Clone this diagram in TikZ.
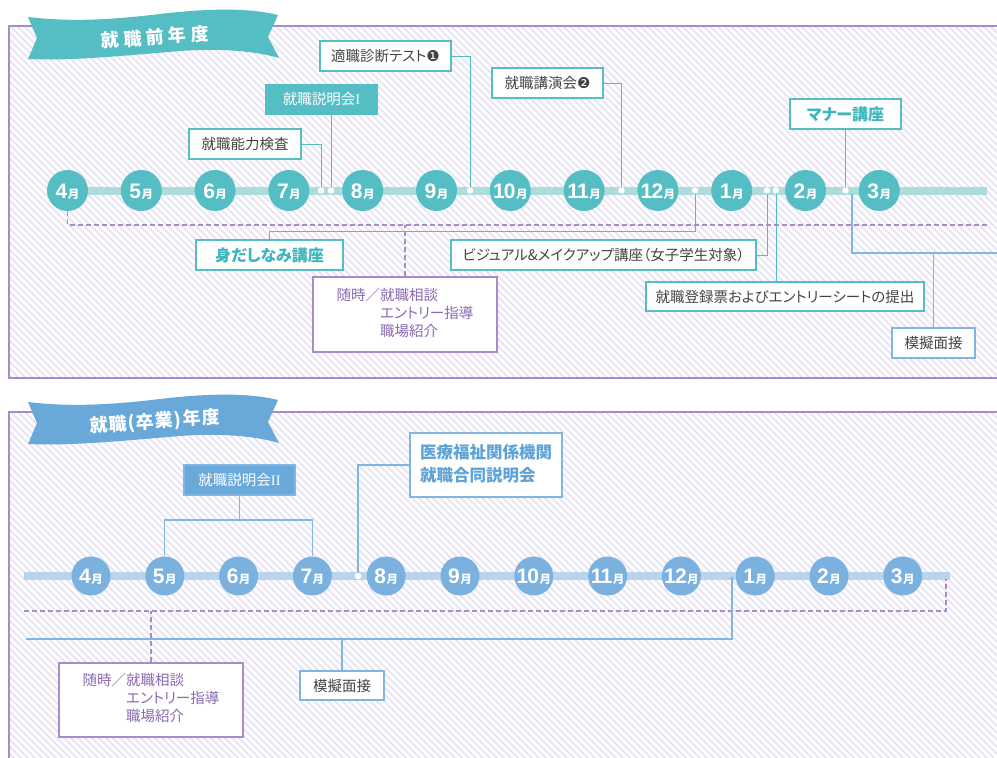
\documentclass[tikz,border=0pt]{standalone}
\usepackage{fontspec}
\setmainfont{Noto Sans CJK JP}[RawFeature=+palt]
\newfontfamily\dejavu{DejaVu Sans}
\newfontfamily\digitfont{Liberation Sans}
\newfontfamily\romfont{Liberation Serif}
\usetikzlibrary{calc}
\definecolor{tealc}{HTML}{55BEC4}
\definecolor{tealbar}{HTML}{ADDCDC}
\definecolor{tealtxt}{HTML}{3FB5BD}
\definecolor{bluec}{HTML}{7AB1DF}
\definecolor{bluebar}{HTML}{B9D5EE}
\definecolor{blueban}{HTML}{69A9DA}
\definecolor{blueln}{HTML}{7FB6E3}
\definecolor{bluetxt}{HTML}{5EA3D8}
\definecolor{purp}{HTML}{A88CCA}
\definecolor{purptxt}{HTML}{8A68B3}
\definecolor{grayt}{HTML}{444444}
\definecolor{stripe}{HTML}{E9E5F3}
\newcommand\monthlab[1]{{\digitfont\fontsize{21}{21}\selectfont\bfseries\addfontfeature{LetterSpace=-4}#1}\kern0.5pt{\fontsize{11.5}{11.5}\selectfont\bfseries 月}}
\newcommand\ribbonpath{(28,17) .. controls (70,22) and (110,20) .. (160,14) .. controls (210,8) and (250,8) .. (278,15) -- (268,37) -- (279,58) .. controls (255,51) and (220,48) .. (180,51) .. controls (120,56) and (70,61) .. (28,59) -- (37,38) -- cycle}
\begin{document}
\begin{tikzpicture}[x=1pt,y=-1pt,
  box/.style={draw, line width=1.6pt, fill=white, inner sep=0pt, font=\fontsize{14.5}{18}\selectfont, text=grayt},
  tealbox/.style={box, draw=tealc},
  bluebox/.style={box, draw=blueln},
  purpbox/.style={box, draw=purp, text=purptxt, font=\fontsize{14.5}{18}\selectfont},
  tmon/.style={circle, fill=tealc, minimum size=41pt, inner sep=0pt, text=white, text height=15pt, text depth=0pt},
  bmon/.style={circle, fill=bluec, minimum size=39pt, inner sep=0pt, text=white, text height=15pt, text depth=0pt},
  dot/.style={circle, fill=white, minimum size=6.5pt, inner sep=0pt},
  tline/.style={draw=tealc, line width=1pt},
  bline/.style={draw=blueln, line width=1.2pt},
  pdash/.style={draw=purp, line width=1.2pt, dash pattern=on 5pt off 3pt},
  panel/.style={draw=purp, line width=1.5pt},
  bartop/.style={draw=tealbar, line width=8pt},
  barbot/.style={draw=bluebar, line width=8pt},
  bannertext/.style={text=white, font=\fontsize{18}{18}\selectfont\bfseries, rotate=4}
]
\useasboundingbox (0,0) rectangle (997,758);
\clip (0,0) rectangle (997,758);
\fill[white] (0,0) rectangle (997,758);
% hatching
\begin{scope}
\clip (9,26) rectangle (1005,378) (9,412) rectangle (1005,765);
\foreach \k in {-800,-793,...,1000} \draw[stripe, line width=2pt] (\k,0) -- ++(800,800);
\end{scope}
% panels
\draw[panel] (1005,26) -- (9,26) -- (9,378) -- (1005,378);
\draw[panel] (1005,412) -- (9,412) -- (9,765);
% banners
\fill[tealc] \ribbonpath;
\node[bannertext, font=\fontsize{18}{18}\selectfont\bfseries\addfontfeature{LetterSpace=25}] (ban1) at (155,37) {就職前年度};
\begin{scope}[yshift=-385pt]
\fill[blueban] \ribbonpath;
\end{scope}
\node[bannertext, font=\fontsize{18}{18}\selectfont\bfseries\addfontfeature{LetterSpace=6}] (ban2) at (155,422) {就職(卒業)年度};
% bars
\draw[bartop] (47,190.5) -- (987,190.5);
\draw[barbot] (24,576) -- (950,576);
% dot positions
\coordinate (dA) at (321,190.5);
\coordinate (dB) at (331,190.5);
\coordinate (dC) at (470,190.5);
\coordinate (dD) at (621.5,190.5);
\coordinate (dE) at (695,190.5);
\coordinate (dF) at (767,190.5);
\coordinate (dG) at (776,190.5);
\coordinate (dH) at (845.5,190.5);
\coordinate (dI) at (358,576);
% month circles
\foreach \m [count=\i from 0] in {4,5,6,7,8,9,10,11,12,1,2,3}
  \node[tmon] (t\m) at (67.5+73.8*\i,190.5) {\monthlab{\m}};
\foreach \m [count=\i from 0] in {4,5,6,7,8,9,10,11,12,1,2,3}
  \node[bmon] (b\m) at (91+73.8*\i,576) {\monthlab{\m}};
% boxes top
\node[tealbox, minimum width=112pt, minimum height=30pt] (nouryoku) at (245,144) {就職能力検査};
\node[tealbox, fill=tealc, text=white, minimum width=111pt, minimum height=29pt] (setsu1) at (321.5,99.5) {就職説明会{\romfont I}};
\node[tealbox, minimum width=131pt, minimum height=30pt] (tekishoku) at (385.5,56) {適職診断テスト{\dejavu\fontsize{15}{15}\selectfont ❶}};
\node[tealbox, minimum width=111pt, minimum height=30pt] (kouen) at (547.5,83) {就職講演会{\dejavu\fontsize{15}{15}\selectfont ❷}};
\node[tealbox, text=tealtxt, font=\fontsize{16}{18}\selectfont\bfseries, minimum width=111pt, minimum height=30pt] (manner) at (845.5,114) {マナー講座};
\node[tealbox, text=tealtxt, font=\fontsize{16}{18}\selectfont\bfseries, minimum width=147pt, minimum height=30pt] (midashi) at (269.5,255) {身だしなみ講座};
\node[tealbox, minimum width=305pt, minimum height=30pt] (visual) at (603.5,255) {ビジュアル\&メイクアップ講座（女子学生対象）};
\node[tealbox, minimum width=278pt, minimum height=29pt] (touroku) at (785,296.5) {就職登録票およびエントリーシートの提出};
\node[bluebox, minimum width=83pt, minimum height=30pt] (mogi1) at (933.5,343) {模擬面接};
\node[purpbox, minimum width=184pt, minimum height=75pt] (zuiji1) at (405,314.5) {\begin{tabular}{@{}l@{}l@{}}随時／&就職相談\\&エントリー指導\\&職場紹介\end{tabular}};
% boxes bottom
\node[bluebox, fill=blueban, text=white, minimum width=111pt, minimum height=30pt] (setsu2) at (239.5,480) {就職説明会{\romfont II}};
\node[bluebox, text=bluetxt, font=\fontsize{16.5}{23}\selectfont\bfseries, minimum width=152pt, minimum height=64pt] (iryou) at (486,465) {\begin{tabular}{@{}l@{}}医療福祉関係機関\\就職合同説明会\end{tabular}};
\node[purpbox, minimum width=184pt, minimum height=74pt] (zuiji2) at (151,700) {\begin{tabular}{@{}l@{}l@{}}随時／&就職相談\\&エントリー指導\\&職場紹介\end{tabular}};
\node[bluebox, minimum width=84pt, minimum height=29pt] (mogi2) at (342,685.5) {模擬面接};
% connectors top
\draw[tline] (nouryoku.east) -| (dA);
\draw[tline] (dB |- setsu1.south) -- (dB);
\draw[tline] (tekishoku.east) -| (dC);
\draw[tline] (kouen.east) -| (dD);
\draw[tline] (manner.south) -- (dH);
\draw[tline] (midashi.north) -- ++(0,-8) -| (dE);
\draw[tline] (visual.east) -| (dF);
\draw[tline] (dG |- touroku.north) -- (dG);
\coordinate (m1s) at (852,194);
\coordinate (m1e) at (1005,253);
\draw[bline] (m1s) |- (m1e);
\draw[bline] (mogi1.north) -- (mogi1.north |- m1e);
\coordinate (pdT) at (988,225);
\draw[pdash] (t4.south) |- (pdT);
\draw[pdash] (zuiji1.north) -- (zuiji1.north |- pdT);
% connectors bottom
\coordinate (s2j) at (239.5,520);
\draw[bline] (setsu2.south) -- (s2j);
\draw[bline] (b5.north) |- (b7.north |- s2j) -- (b7.north);
\draw[bline] (iryou.west) -| (dI);
\coordinate (pdB0) at (24,611);
\coordinate (pdB1) at (946,579);
\draw[pdash] (pdB0) -| (pdB1);
\draw[pdash] (zuiji2.north) -- (zuiji2.north |- pdB0);
\coordinate (blB0) at (26,639);
\coordinate (blB1) at (732,577);
\draw[bline] (blB0) -| (blB1);
\draw[bline] (mogi2.north) -- (mogi2.north |- blB0);
% dots on bars
\foreach \d in {dA,dB,dC,dD,dE,dF,dG,dH,dI}
  \node[dot] at (\d) {};
\end{tikzpicture}
\end{document}
